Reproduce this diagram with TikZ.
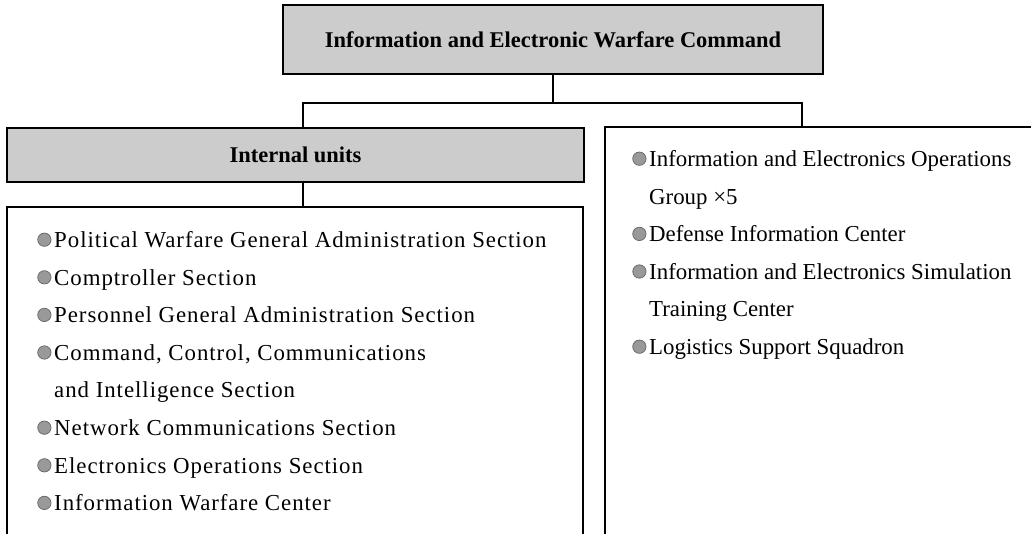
\documentclass[tikz,border=0pt]{standalone}
\usepackage{fontspec}
\setmainfont{Liberation Serif}
\newfontfamily\sectfont[LetterSpace=4.2]{Liberation Serif}
\usepackage{tikz}
\usetikzlibrary{positioning}
\definecolor{hqgray}{gray}{0.8}
\newcommand{\unitdot}{\makebox[9.6pt][l]{\tikz[baseline=0pt]\filldraw[draw=black!60, fill=black!40, line width=0.4pt] (0,4.4pt) circle[radius=3.8pt];}}
\newcommand{\unitgap}{\hspace*{9.6pt}}

\begin{document}
\begin{tikzpicture}[
    x=0.02cm, y=-0.02cm,
    line width=1.1pt,
    hq/.style={rectangle, draw, fill=hqgray, font=\fontsize{12.8}{15}\selectfont\bfseries},
    unitbox/.style={rectangle, draw, fill=white},
    items/.style={anchor=north west, inner sep=0pt, align=left, font=\fontsize{13}{21.4}\selectfont}
]
\clip (0,0) rectangle (1031,534);

% command and internal units header
\node[hq, minimum width=10.8cm, minimum height=1.38cm] (cmd) at (553,39.5) {Information and Electronic Warfare Command};
\node[hq, minimum width=11.54cm, minimum height=1.08cm] (inner) at (295.5,155) {Internal units};

% unit lists
\node[unitbox, minimum width=11.52cm, minimum height=7.06cm] (innerlist) at (295,383.5) {};
\node[unitbox, minimum width=9.1cm, minimum height=8.66cm] (outer) at (832.5,343.5) {};

\node[items, font=\fontsize{13}{21.4}\selectfont\sectfont] (innertext) at (37,231) {%
\unitdot Political Warfare General Administration Section\\
\unitdot Comptroller Section\\
\unitdot Personnel General Administration Section\\
\unitdot Command, Control, Communications\\
\unitgap and Intelligence Section\\
\unitdot Network Communications Section\\
\unitdot Electronics Operations Section\\
\unitdot Information Warfare Center};

\node[items] (outertext) at (632,150) {%
\unitdot Information and Electronics Operations\\
\unitgap Group ×5\\
\unitdot Defense Information Center\\
\unitdot Information and Electronics Simulation\\
\unitgap Training Center\\
\unitdot Logistics Support Squadron};

% connectors
\coordinate (busL) at (303,103);
\coordinate (busR) at (802,103);
\draw (cmd.south) -- (cmd.south |- busL);
\draw (inner.north -| busL) -- (busL) -- (busR) -- (outer.north -| busR);
\draw (inner.south -| busL) -- (innerlist.north -| busL);

\end{tikzpicture}
\end{document}
